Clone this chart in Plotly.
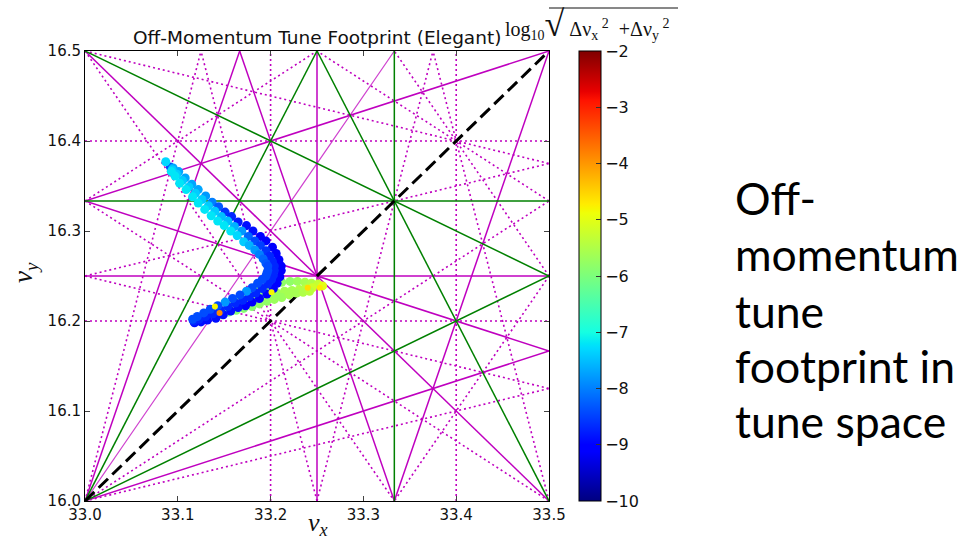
import plotly.graph_objects as go

# ---------------- data ----------------
X_RANGE = [33.0, 33.5]
Y_RANGE = [16.0, 16.5]
X_TICKS = [33.0, 33.1, 33.2, 33.3, 33.4, 33.5]
X_TICK_LABELS = ["33.0", "33.1", "33.2", "33.3", "33.4", "33.5"]
Y_TICKS = [16.0, 16.1, 16.2, 16.3, 16.4, 16.5]
Y_TICK_LABELS = ["16.0", "16.1", "16.2", "16.3", "16.4", "16.5"]
CBAR_TICKS = [-10, -9, -8, -7, -6, -5, -4, -3, -2]

# resonance lines  a*nu_x + b*nu_y = n
RES_ORDER3 = [(3, 0, 100), (0, 3, 49), (1, 2, 66), (2, 1, 83), (2, -1, 50), (1, -2, 1)]
RES_ORDER4 = [(4, 0, 133), (0, 4, 65), (2, 2, 99), (1, 3, 82), (1, -3, -16), (1, -3, -15),
              (3, 1, 116), (3, -1, 83), (3, -1, 84)]
RES_ORDER5 = [(5, 0, 166), (5, 0, 167), (0, 5, 81), (0, 5, 82),
              (4, 1, 149), (4, 1, 150), (4, -1, 116), (4, -1, 117),
              (1, 4, 98), (1, 4, 99), (1, -4, -31), (1, -4, -32),
              (3, 2, 132), (3, 2, 133), (3, -2, 68),
              (2, 3, 115), (2, 3, 116), (2, -3, 18), (2, -3, 17)]
RES_ORDER5_FAINT = [(3, -2, 67)]
COUPLING = [(1, -1, 17)]

# footprint: outer strand (blue side)
FP_OUTER_X = [33.092, 33.095, 33.101, 33.108, 33.115, 33.122, 33.130, 33.137, 33.144, 33.151,
              33.158, 33.165, 33.174, 33.181, 33.189, 33.195, 33.202, 33.206, 33.209, 33.2115,
              33.2115, 33.210, 33.207, 33.203, 33.196, 33.188, 33.180, 33.173, 33.165, 33.157,
              33.149, 33.141, 33.132, 33.125, 33.118]
FP_OUTER_Y = [16.371, 16.370, 16.366, 16.359, 16.352, 16.346, 16.339, 16.332, 16.327, 16.321,
              16.316, 16.310, 16.306, 16.300, 16.294, 16.289, 16.282, 16.275, 16.268, 16.261,
              16.256, 16.249, 16.242, 16.236, 16.230, 16.225, 16.221, 16.217, 16.215, 16.211,
              16.207, 16.203, 16.201, 16.199, 16.198]
FP_OUTER_C = [-8.4, -7.7, -7.7, -7.7, -7.7, -7.7, -7.8, -8.0, -8.3, -8.6,
              -8.7, -8.8, -8.9, -8.9, -9.1, -9.1, -9.1, -9.1, -9.1, -9.1,
              -9.1, -9.1, -9.1, -9.1, -9.1, -9.1, -9.1, -9.1, -8.9, -8.9,
              -8.9, -8.9, -8.9, -8.9, -8.9]
# middle strand
FP_MID_X = [33.087, 33.094, 33.099, 33.105, 33.112, 33.119, 33.126, 33.133, 33.140, 33.147,
            33.154, 33.161, 33.169, 33.176, 33.183, 33.189, 33.195, 33.199, 33.202, 33.204,
            33.204, 33.203, 33.201, 33.197, 33.191, 33.184, 33.177, 33.170, 33.162, 33.154,
            33.146, 33.138, 33.130, 33.123, 33.117]
FP_MID_Y = [16.377, 16.368, 16.363, 16.356, 16.349, 16.342, 16.335, 16.328, 16.322, 16.316,
            16.311, 16.305, 16.300, 16.294, 16.289, 16.284, 16.278, 16.272, 16.266, 16.261,
            16.256, 16.251, 16.246, 16.241, 16.236, 16.231, 16.227, 16.223, 16.220, 16.216,
            16.212, 16.208, 16.205, 16.202, 16.200]
FP_MID_C = [-7.3, -7.4, -7.4, -7.4, -7.4, -7.4, -7.4, -7.4, -7.4, -7.5,
            -7.5, -7.6, -7.8, -8.2, -8.4, -8.5, -8.6, -8.7, -8.7, -8.7,
            -8.7, -8.7, -8.7, -8.7, -8.7, -8.7, -8.7, -8.7, -8.7, -8.7,
            -8.7, -8.7, -8.7, -8.7, -8.7]
# inner strand (cyan side)
FP_INNER_X = [33.093, 33.097, 33.102, 33.109, 33.116, 33.122, 33.129, 33.136, 33.143, 33.150,
              33.157, 33.164, 33.171, 33.177, 33.183, 33.188, 33.192, 33.195, 33.197, 33.197,
              33.196, 33.195, 33.191, 33.186, 33.180, 33.174, 33.167, 33.159, 33.151, 33.143,
              33.135, 33.128, 33.121, 33.116]
FP_INNER_Y = [16.366, 16.361, 16.353, 16.346, 16.338, 16.331, 16.324, 16.317, 16.311, 16.306,
              16.300, 16.295, 16.288, 16.284, 16.279, 16.274, 16.269, 16.264, 16.261, 16.256,
              16.253, 16.250, 16.246, 16.242, 16.237, 16.233, 16.229, 16.225, 16.221, 16.217,
              16.213, 16.209, 16.205, 16.202]
FP_INNER_C = [-7.2, -7.2, -7.2, -7.2, -7.2, -7.2, -7.2, -7.2, -7.2, -7.2,
              -7.2, -7.3, -7.4, -7.6, -7.8, -8.0, -8.2, -8.3, -8.4, -8.4,
              -8.4, -8.4, -8.4, -8.4, -8.4, -7.8, -8.4, -8.4, -7.8, -8.4,
              -8.4, -8.4, -8.4, -8.4]
# green wedge strands
FP_WEDGE_X = [33.156, 33.164, 33.172, 33.180, 33.188, 33.196, 33.204, 33.212, 33.221, 33.229,
              33.237, 33.244, 33.251,
              33.150, 33.158, 33.167, 33.175, 33.183, 33.191, 33.199, 33.207, 33.215, 33.223,
              33.231, 33.238, 33.245, 33.256,
              33.147, 33.155, 33.163, 33.171, 33.180, 33.188, 33.196, 33.204, 33.212, 33.220,
              33.228, 33.235, 33.242]
FP_WEDGE_Y = [16.216, 16.221, 16.225, 16.230, 16.234, 16.238, 16.242, 16.243, 16.244, 16.244,
              16.243, 16.242, 16.241,
              16.211, 16.214, 16.217, 16.220, 16.223, 16.226, 16.229, 16.231, 16.233, 16.234,
              16.235, 16.236, 16.237, 16.239,
              16.207, 16.210, 16.212, 16.214, 16.216, 16.219, 16.222, 16.224, 16.226, 16.229,
              16.231, 16.232, 16.233]
FP_WEDGE_C = [-6.1, -6.1, -6.0, -6.0, -6.0, -5.9, -5.9, -5.8, -5.8, -5.7,
              -5.6, -5.5, -5.3,
              -5.9, -5.9, -5.9, -5.8, -5.8, -5.8, -5.7, -5.7, -5.6, -5.6,
              -5.5, -5.4, -5.2, -5.0,
              -6.0, -6.0, -5.9, -5.9, -5.9, -5.8, -5.8, -5.7, -5.7, -5.6,
              -5.6, -5.5, -5.4]
# a few isolated hot points
FP_HOT_X = [33.140, 33.145, 33.201, 33.240, 33.253]
FP_HOT_Y = [16.216, 16.209, 16.232, 16.237, 16.237]
FP_HOT_C = [-4.8, -3.9, -4.8, -4.6, -4.7]

TITLE = "Off-Momentum Tune Footprint (Elegant)"
SIDE_TEXT = ["Off-", "momentum", "tune", "footprint in", "tune space"]

# ---------------- helpers ----------------
def segment(a, b, n):
    x0, x1 = X_RANGE
    y0, y1 = Y_RANGE
    eps = 1e-9
    pts = []
    if b != 0:
        for x in (x0, x1):
            y = (n - a * x) / b
            if y0 - eps <= y <= y1 + eps:
                pts.append((x, y))
    if a != 0:
        for y in (y0, y1):
            x = (n - b * y) / a
            if x0 - eps <= x <= x1 + eps:
                pts.append((x, y))
    uniq = []
    for p in pts:
        if all(abs(p[0] - q[0]) > 1e-7 or abs(p[1] - q[1]) > 1e-7 for q in uniq):
            uniq.append(p)
    if len(uniq) < 2:
        return None
    best = None
    dmax = -1
    for i in range(len(uniq)):
        for j in range(i + 1, len(uniq)):
            d = (uniq[i][0] - uniq[j][0]) ** 2 + (uniq[i][1] - uniq[j][1]) ** 2
            if d > dmax:
                dmax = d
                best = (uniq[i], uniq[j])
    if dmax < 1e-10:
        return None
    return best


def line_xy(res_list):
    xs, ys = [], []
    for a, b, n in res_list:
        s = segment(a, b, n)
        if s is None:
            continue
        xs += [s[0][0], s[1][0], None]
        ys += [s[0][1], s[1][1], None]
    return xs, ys


MAGENTA = "#bf00bf"
GREEN = "#008000"

JET = [
    [0.0, "rgb(0,0,128)"], [0.11, "rgb(0,0,255)"], [0.125, "rgb(0,0,255)"],
    [0.34, "rgb(0,219,255)"], [0.35, "rgb(0,230,247)"], [0.375, "rgb(21,255,226)"],
    [0.64, "rgb(239,255,8)"], [0.65, "rgb(247,246,0)"], [0.66, "rgb(255,236,0)"],
    [0.89, "rgb(255,19,0)"], [0.91, "rgb(232,0,0)"], [1.0, "rgb(128,0,0)"],
]

fig = go.Figure()

x5, y5 = line_xy(RES_ORDER5)
fig.add_trace(go.Scatter(x=x5, y=y5, mode="lines", hoverinfo="skip", showlegend=False,
                         line=dict(color=MAGENTA, width=1.6, dash="2px,3px")))
x5f, y5f = line_xy(RES_ORDER5_FAINT)
fig.add_trace(go.Scatter(x=x5f, y=y5f, mode="lines", hoverinfo="skip", showlegend=False,
                         opacity=0.75, line=dict(color=MAGENTA, width=1.2)))
x4, y4 = line_xy(RES_ORDER4)
fig.add_trace(go.Scatter(x=x4, y=y4, mode="lines", hoverinfo="skip", showlegend=False,
                         line=dict(color=MAGENTA, width=1.5)))
x3, y3 = line_xy(RES_ORDER3)
fig.add_trace(go.Scatter(x=x3, y=y3, mode="lines", hoverinfo="skip", showlegend=False,
                         line=dict(color=GREEN, width=1.5)))
xc, yc = line_xy(COUPLING)
fig.add_trace(go.Scatter(x=xc, y=yc, mode="lines", hoverinfo="skip", showlegend=False,
                         line=dict(color="black", width=3, dash="13px,6px")))

marker_common = dict(colorscale=JET, cmin=-10, cmax=-2, size=9, line=dict(width=0))

fig.add_trace(go.Scatter(x=FP_WEDGE_X, y=FP_WEDGE_Y, mode="markers", showlegend=False,
                         marker=dict(color=FP_WEDGE_C, **marker_common)))
fig.add_trace(go.Scatter(x=FP_OUTER_X, y=FP_OUTER_Y, mode="markers", showlegend=False,
                         marker=dict(color=FP_OUTER_C, **marker_common)))
fig.add_trace(go.Scatter(x=FP_MID_X, y=FP_MID_Y, mode="markers", showlegend=False,
                         marker=dict(color=FP_MID_C, **marker_common)))
fig.add_trace(go.Scatter(x=FP_INNER_X, y=FP_INNER_Y, mode="markers", showlegend=False,
                         marker=dict(color=FP_INNER_C, **marker_common)))
fig.add_trace(go.Scatter(
    x=FP_HOT_X, y=FP_HOT_Y, mode="markers", showlegend=False,
    marker=dict(color=FP_HOT_C, colorscale=JET, cmin=-10, cmax=-2, size=6, line=dict(width=0),
                showscale=True,
                colorbar=dict(x=(579 - 85) / 464, xanchor="left", xpad=0, ypad=0,
                              y=0.5, yanchor="middle", len=1, lenmode="fraction",
                              thickness=22, thicknessmode="pixels",
                              outlinewidth=1, outlinecolor="black",
                              ticks="inside", ticklen=5, tickcolor="#333",
                              tickvals=CBAR_TICKS,
                              tickfont=dict(family="DejaVu Sans", size=16, color="#111")))))

axis_common = dict(showgrid=False, zeroline=False, showline=True, linecolor="black",
                   linewidth=1, mirror="ticks", ticks="inside", ticklen=5, tickcolor="#444",
                   tickfont=dict(family="DejaVu Sans", size=15, color="#111"))

fig.update_xaxes(range=X_RANGE, tickvals=X_TICKS, ticktext=X_TICK_LABELS, **axis_common)
fig.update_yaxes(range=Y_RANGE, tickvals=Y_TICKS, ticktext=Y_TICK_LABELS, **axis_common)

annotations = [
    dict(text=TITLE, x=0.5, y=(501 - 38) / 450, xref="paper", yref="paper",
         xanchor="center", yanchor="middle", showarrow=False,
         font=dict(family="DejaVu Sans", size=18.5, color="#111")),
    dict(text="<i>ν</i><sub><i>x</i></sub>", x=(318 - 85) / 464, y=(501 - 524) / 450,
         xref="paper", yref="paper", xanchor="center", yanchor="middle", showarrow=False,
         font=dict(family="Liberation Serif", size=26, color="#111")),
    dict(text="<i>ν</i><sub><i>y</i></sub>", x=(25 - 85) / 464, y=(501 - 272) / 450,
         xref="paper", yref="paper", xanchor="center", yanchor="middle", showarrow=False,
         textangle=-90, font=dict(family="Liberation Serif", size=27, color="#111")),
    dict(text="log<sub>10</sub><span style='font-size:36px'>√</span> Δν<sub>x</sub><sup> 2</sup>  +Δν<sub>y</sub><sup> 2</sup>",
         x=(503 - 85) / 464, y=(501 - 24) / 450, xref="paper", yref="paper",
         xanchor="left", yanchor="middle", showarrow=False,
         font=dict(family="Liberation Serif", size=20, color="#111")),
]
side_y = [197, 253, 310, 365, 420]
for t, yy in zip(SIDE_TEXT, side_y):
    annotations.append(dict(text=t, x=(733 - 85) / 464, y=(501 - yy) / 450,
                            xref="paper", yref="paper", xanchor="left", yanchor="middle",
                            showarrow=False,
                            font=dict(family="Lato", size=44.5, color="black")))

fig.update_layout(
    width=972, height=542,
    margin=dict(l=85, r=423, t=51, b=41),
    paper_bgcolor="white", plot_bgcolor="white",
    annotations=annotations,
    shapes=[dict(type="line", xref="paper", yref="paper",
                 x0=(549 - 85) / 464, x1=(678 - 85) / 464,
                 y0=(501 - 8) / 450, y1=(501 - 8) / 450,
                 line=dict(color="#111", width=1))],
)

fig.write_html("out.html")
